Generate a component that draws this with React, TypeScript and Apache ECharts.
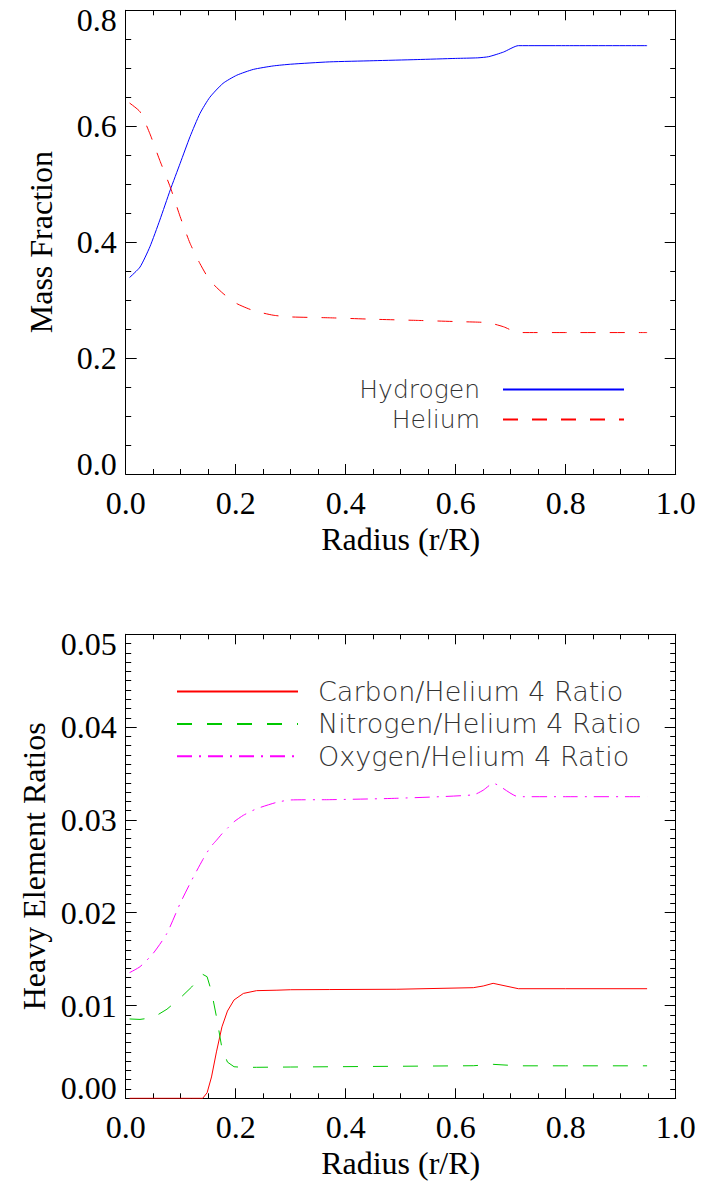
import React, { useEffect, useRef } from "react";
import * as echarts from "echarts";

// ---------- Top panel data ----------
const radiusTop = [0.007, 0.026, 0.044, 0.062, 0.081, 0.099, 0.117, 0.135, 0.153, 0.177, 0.202, 0.232, 0.268, 0.3, 0.37, 0.45, 0.53, 0.6, 0.64, 0.66, 0.687, 0.714, 0.8, 0.948];
const hydrogen = [0.339, 0.357, 0.392, 0.438, 0.49, 0.536, 0.582, 0.622, 0.65, 0.674, 0.688, 0.698, 0.704, 0.707, 0.711, 0.713, 0.715, 0.717, 0.718, 0.72, 0.728, 0.739, 0.739, 0.739];
const helium = [0.64, 0.625, 0.587, 0.541, 0.495, 0.444, 0.398, 0.363, 0.334, 0.3115, 0.294, 0.282, 0.274, 0.271, 0.2695, 0.267, 0.265, 0.263, 0.262, 0.261, 0.254, 0.244, 0.244, 0.244];

// ---------- Bottom panel data ----------
const radiusBottom = [0.007, 0.026, 0.05, 0.075, 0.099, 0.12, 0.14, 0.148, 0.156, 0.165, 0.175, 0.185, 0.197, 0.214, 0.238, 0.275, 0.3, 0.371, 0.493, 0.632, 0.65, 0.668, 0.714, 0.8, 0.948];
const carbonRatio = [0, 0, 0, 0, 0, 0, 0, 0.0006, 0.0023, 0.005, 0.0077, 0.0094, 0.0106, 0.0113, 0.0116, 0.01165, 0.0117, 0.01172, 0.01175, 0.01192, 0.0121, 0.01239, 0.01181, 0.01181, 0.01181];
const nitrogenRatio = [0.00855, 0.0085, 0.0087, 0.0096, 0.0108, 0.012, 0.01336, 0.0131, 0.0115, 0.0088, 0.0054, 0.0039, 0.0034, 0.00333, 0.00334, 0.00336, 0.00337, 0.0034, 0.00345, 0.00351, 0.00358, 0.00366, 0.0035, 0.0035, 0.0035];
const oxygenRatio = [0.01354, 0.01418, 0.01562, 0.01778, 0.021, 0.0235, 0.0257, 0.0265, 0.0272, 0.0278, 0.0285, 0.0291, 0.0298, 0.0305, 0.0312, 0.0319, 0.03215, 0.03218, 0.03233, 0.0327, 0.0332, 0.03394, 0.0325, 0.0325, 0.0325];

const topLegend = ["Hydrogen", "Helium"];
const bottomLegend = ["Carbon/Helium 4 Ratio", "Nitrogen/Helium 4 Ratio", "Oxygen/Helium 4 Ratio"];

const SERIF = "Liberation Serif";
const SANS = "'DejaVu Sans ExtraLight', 'DejaVu Sans'";
const FS = 32;

function xAxisDef(gridIndex: number, position: string, labels: boolean) {
  return {
    type: "value",
    gridIndex,
    position,
    min: 0,
    max: 1,
    interval: 0.2,
    name: labels ? "Radius (r/R)" : "",
    nameLocation: "middle",
    nameGap: 49,
    nameTextStyle: { fontFamily: SERIF, fontSize: FS, color: "#000" },
    axisLine: { show: true, onZero: false, lineStyle: { color: "#000", width: 1 } },
    axisTick: { show: true, inside: true, length: 10, lineStyle: { color: "#000" } },
    minorTick: { show: true, splitNumber: 4, length: 5, lineStyle: { color: "#000" } },
    splitLine: { show: false },
    minorSplitLine: { show: false },
    axisLabel: {
      show: labels,
      margin: 13,
      fontFamily: SERIF,
      fontSize: FS,
      color: "#000",
      formatter: (v: number) => v.toFixed(1),
    },
  };
}

function yAxisDef(gridIndex: number, position: string, labels: boolean, max: number, interval: number, minor: number, digits: number, name: string) {
  const rich = {
    top: { padding: [20, 0, 0, 0], fontFamily: SERIF, fontSize: FS, color: "#000" },
    bot: { padding: [0, 0, 20, 0], fontFamily: SERIF, fontSize: FS, color: "#000" },
  };
  return {
    type: "value",
    gridIndex,
    position,
    min: 0,
    max,
    interval,
    name: labels ? name : "",
    nameLocation: "middle",
    nameGap: 69,
    nameRotate: 90,
    nameTextStyle: { fontFamily: SERIF, fontSize: FS, color: "#000" },
    axisLine: { show: true, onZero: false, lineStyle: { color: "#000", width: 1 } },
    axisTick: { show: true, inside: true, length: 11, lineStyle: { color: "#000" } },
    minorTick: { show: true, splitNumber: minor, length: 5.5, lineStyle: { color: "#000" } },
    splitLine: { show: false },
    minorSplitLine: { show: false },
    axisLabel: {
      show: labels,
      margin: 9,
      fontFamily: SERIF,
      fontSize: FS,
      color: "#000",
      rich,
      formatter: (v: number) => {
        const s = v.toFixed(digits);
        if (Math.abs(v - max) < 1e-9) return `{top|${s}}`;
        if (Math.abs(v) < 1e-12) return `{bot|${s}}`;
        return s;
      },
    },
  };
}

function lineSeries(name: string, xi: number, yi: number, r: number[], vals: number[], color: string, type: any, smooth: number | boolean) {
  return {
    name,
    type: "line",
    xAxisIndex: xi,
    yAxisIndex: yi,
    symbol: "none",
    showSymbol: false,
    smooth,
    lineStyle: { color, width: 1, type },
    itemStyle: { color },
    data: r.map((x, i) => [x, vals[i]]),
  };
}

export default function App() {
  const ref = useRef<HTMLDivElement>(null);
  useEffect(() => {
    if (!ref.current) return;
    const chart = echarts.init(ref.current, undefined, { renderer: "svg" });
    const legendText = { fontFamily: SANS, fontWeight: 200, color: "#333", lineHeight: 20 };
    const option: any = {
      animation: false,
      backgroundColor: "#fff",
      grid: [
        { left: 125.7, top: 10.3, width: 550, height: 463.7 },
        { left: 125.7, top: 634.3, width: 550, height: 464 },
      ],
      xAxis: [
        xAxisDef(0, "bottom", true),
        xAxisDef(0, "top", false),
        xAxisDef(1, "bottom", true),
        xAxisDef(1, "top", false),
      ],
      yAxis: [
        yAxisDef(0, "left", true, 0.8, 0.2, 4, 1, "Mass Fraction"),
        yAxisDef(0, "right", false, 0.8, 0.2, 4, 1, ""),
        yAxisDef(1, "left", true, 0.05, 0.01, 10, 2, "Heavy Element Ratios"),
        yAxisDef(1, "right", false, 0.05, 0.01, 10, 2, ""),
      ],
      legend: [
        {
          data: topLegend,
          orient: "vertical",
          align: "right",
          right: 76,
          top: 377,
          padding: 0,
          itemWidth: 121,
          itemHeight: 20,
          itemGap: 5,
          selectedMode: false,
          itemStyle: { opacity: 0 },
          textStyle: { ...legendText, fontSize: 25, padding: [0, 18, 0, 0] },
        },
        {
          data: bottomLegend,
          orient: "vertical",
          align: "left",
          left: 176,
          top: 678,
          padding: 0,
          itemWidth: 121,
          itemHeight: 20,
          itemGap: 5.4,
          selectedMode: false,
          itemStyle: { opacity: 0 },
          textStyle: { ...legendText, fontSize: 27, padding: [0, 0, 0, 15] },
        },
      ],
      series: [
        lineSeries("Hydrogen", 0, 0, radiusTop, hydrogen, "#0000ff", "solid", 0.2),
        lineSeries("Helium", 0, 0, radiusTop, helium, "#ff0000", [15, 14], 0.2),
        lineSeries("Carbon/Helium 4 Ratio", 2, 2, radiusBottom, carbonRatio, "#ff0000", "solid", false),
        lineSeries("Nitrogen/Helium 4 Ratio", 2, 2, radiusBottom, nitrogenRatio, "#00c800", [15, 15], false),
        lineSeries("Oxygen/Helium 4 Ratio", 2, 2, radiusBottom, oxygenRatio, "#ff00ff", [15, 7, 2, 7], 0.2),
      ],
    };
    chart.setOption(option);
    return () => chart.dispose();
  }, []);
  return <div ref={ref} style={{ position: "absolute", left: 0, top: 0, width: 701, height: 1184 }} />;
}
